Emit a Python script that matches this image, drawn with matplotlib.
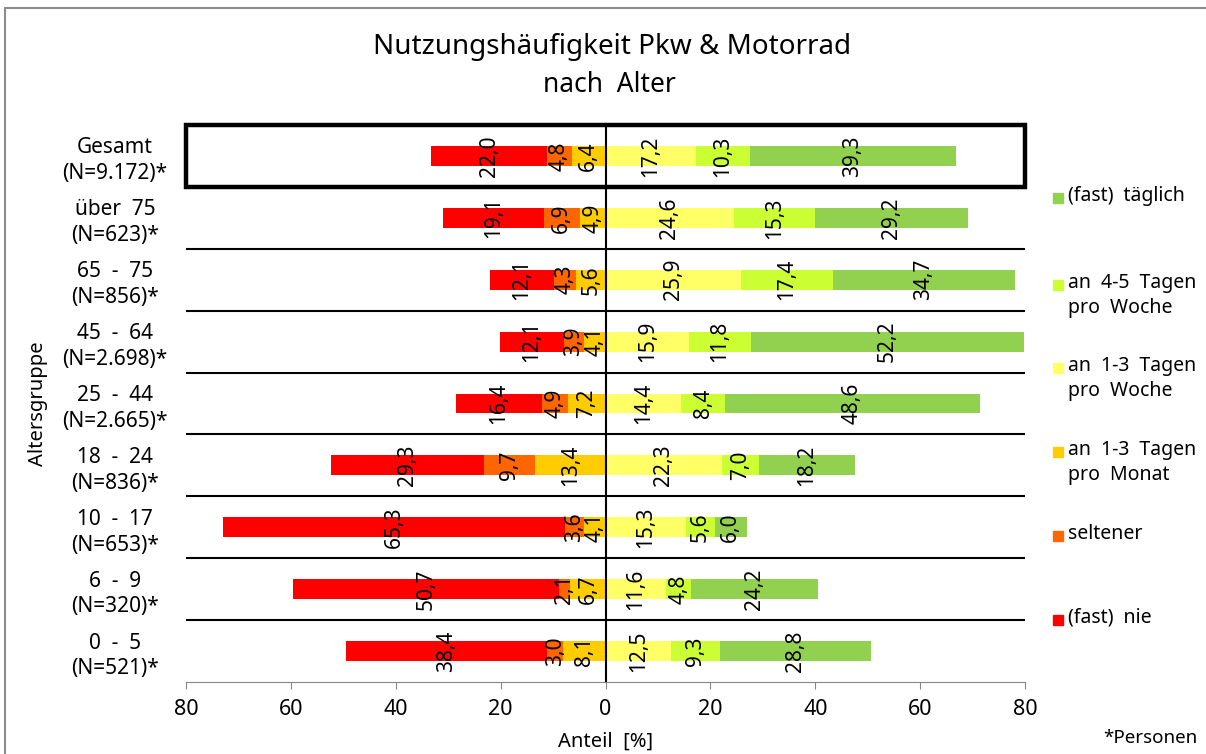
import matplotlib
matplotlib.use('Agg')
import matplotlib.pyplot as plt
from matplotlib.patches import Rectangle
import numpy as np

plt.rcParams['font.family'] = ['Noto Sans', 'DejaVu Sans']

# row labels, top to bottom
groups = ['Gesamt\n(N=9.172)*', 'über  75\n(N=623)*', '65  -  75\n(N=856)*',
          '45  -  64\n(N=2.698)*', '25  -  44\n(N=2.665)*', '18  -  24\n(N=836)*',
          '10  -  17\n(N=653)*', '6  -  9\n(N=320)*', '0  -  5\n(N=521)*']

# shares in %, same order as groups
fast_nie    = [22.0, 19.1, 12.1, 12.1, 16.4, 29.3, 65.3, 50.7, 38.4]
seltener    = [4.8, 6.9, 4.3, 3.9, 4.9, 9.7, 3.6, 2.1, 3.0]
monat_1_3   = [6.4, 4.9, 5.6, 4.1, 7.2, 13.4, 4.1, 6.7, 8.1]
woche_1_3   = [17.2, 24.6, 25.9, 15.9, 14.4, 22.3, 15.3, 11.6, 12.5]
woche_4_5   = [10.3, 15.3, 17.4, 11.8, 8.4, 7.0, 5.6, 4.8, 9.3]
fast_taegl  = [39.3, 29.2, 34.7, 52.2, 48.6, 18.2, 6.0, 24.2, 28.8]

legend_labels = ['(fast)  täglich', 'an  4-5  Tagen\npro  Woche', 'an  1-3  Tagen\npro  Woche',
                 'an  1-3  Tagen\npro  Monat', 'seltener', '(fast)  nie']
colors = {'nie': '#FF0000', 'selt': '#FF6600', 'monat': '#FFCC00',
          'w13': '#FFFF66', 'w45': '#CCFF33', 'taegl': '#92D050'}

W, H = 1206, 754
fig = plt.figure(figsize=(W / 100, H / 100), dpi=100)
ax = fig.add_axes([186 / W, 1 - 682 / H, 839 / W, 557 / H])

y = np.arange(len(groups))
nie = np.array(fast_nie); sel = np.array(seltener); mon = np.array(monat_1_3)
w13 = np.array(woche_1_3); w45 = np.array(woche_4_5); tg = np.array(fast_taegl)

h = 0.32
segments = [
    (-mon, mon, colors['monat']),
    (-(mon + sel), sel, colors['selt']),
    (-(mon + sel + nie), nie, colors['nie']),
    (np.zeros_like(w13), w13, colors['w13']),
    (w13, w45, colors['w45']),
    (w13 + w45, tg, colors['taegl']),
]
for left, width, c in segments:
    ax.barh(y, width, left=left, height=h, color=c, zorder=2)
    for yi, l, w in zip(y, left, width):
        ax.text(l + w / 2, yi, f"{w:.1f}".replace('.', ','), rotation=90,
                ha='center', va='center', fontsize=15, color='black', zorder=4)

# row separators, zero line, Gesamt box
ax.hlines(y[:-1] + 0.5, -80, 80, color='black', lw=1.5, zorder=3)
ax.axvline(0, color='black', lw=1.5, zorder=3)
ax.add_patch(Rectangle((-80, -0.5), 160, 1, fill=False, lw=3.2, ec='black',
                       zorder=5, clip_on=False))

ax.set_xlim(-80, 80)
ax.set_ylim(len(groups) - 0.5, -0.5)
ax.set_xticks(np.arange(-80, 81, 20))
ax.set_xticklabels([str(abs(v)) for v in range(-80, 81, 20)], fontsize=15.5)
ax.set_yticks(y)
ax.set_yticklabels(groups, fontsize=15, ha='center', linespacing=1.3)
ax.tick_params(axis='y', length=0, pad=51)
ax.tick_params(axis='x', length=5, color='#868686', pad=7)
for s in ['left', 'right', 'top']:
    ax.spines[s].set_visible(False)
ax.spines['bottom'].set_color('#868686')

ax.set_ylabel('Altersgruppe', fontsize=14.5)
ax.yaxis.set_label_coords(-138 / 839, 0.5)
ax.set_xlabel('Anteil  [%]', fontsize=14.5)
ax.xaxis.set_label_coords(0.5, -50 / 557)

# titles
fig.text(612 / W, 1 - 47 / H, 'Nutzungshäufigkeit Pkw & Motorrad', fontsize=20,
         ha='center', va='center')
fig.text(609 / W, 1 - 85 / H, 'nach  Alter', fontsize=19, ha='center', va='center')
fig.text(1150 / W, 1 - 738 / H, '*Personen', fontsize=13.5, ha='center', va='center')

# legend
leg_cols = [colors['taegl'], colors['w45'], colors['w13'], colors['monat'],
            colors['selt'], colors['nie']]
leg_y = [198, 285, 368, 452, 536, 620]
for lab, c, ly in zip(legend_labels, leg_cols, leg_y):
    fig.patches.append(Rectangle((1053 / W, 1 - (ly + 5) / H), 10 / W, 10 / H,
                                 transform=fig.transFigure, color=c, figure=fig))
    fig.text(1068 / W, 1 - (ly - 12) / H, lab, fontsize=14, ha='left', va='top',
             linespacing=1.35)

# outer frame
fig.patches.append(Rectangle((5 / W, -0.1), 1.2, 1.1 - 8 / H, transform=fig.transFigure,
                             fill=False, ec='#8c8c8c', lw=1.5, figure=fig))

fig.savefig('out.png', dpi=100)
